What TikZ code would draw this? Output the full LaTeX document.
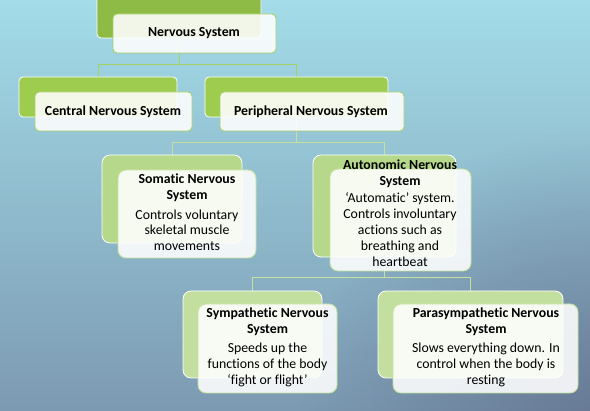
\documentclass[tikz,border=0pt]{standalone}
\usepackage{fontspec}
\setmainfont{Carlito}[Ligatures=NoCommon]
\usetikzlibrary{shadings,fadings}
\tikzfading[name=darkglow, inner color=transparent!0, outer color=transparent!100]
\definecolor{bgTop}{HTML}{A3DCE8}
\definecolor{bgMid}{HTML}{94CFDF}
\definecolor{bgBot}{HTML}{7C9AB2}
\definecolor{bgDark}{HTML}{5E6A88}
\definecolor{gA}{HTML}{8DBB45}
\definecolor{gB}{HTML}{9DCC4F}
\definecolor{gC}{HTML}{B5D88B}
\definecolor{gD}{HTML}{C3DF9F}
\definecolor{lineA}{HTML}{A6CF66}
\definecolor{lineB}{HTML}{C6E19E}
\begin{document}
\begin{tikzpicture}[x=1pt,y=-1pt,
  backbox/.style={draw=white, line width=0.8pt, inner sep=0pt},
  frontbox/.style={fill=white, fill opacity=0.88, line width=0.9pt, inner sep=0pt},
  conn/.style={line width=0.8pt},
  lbl/.style={font=\fontsize{13.8}{15.8}\selectfont, align=center, inner sep=0pt, text=black},
  head/.style={lbl, font=\fontsize{13.8}{15.8}\selectfont\bfseries}]
\useasboundingbox (0,0) rectangle (590,411);
\shade[top color=bgTop, middle color=bgMid, bottom color=bgBot] (0,0) rectangle (590,411);
\clip (0,0) rectangle (590,411);
\fill[bgDark, path fading=darkglow, fill opacity=0.7] (600,430) circle (300pt);
\coordinate (bus1) at (0,64);
\coordinate (bus2) at (0,142);
\coordinate (bus3) at (0,277);
% connector anchor points (back box centres)
\coordinate (nsC) at (179,17);
\coordinate (cnsC) at (98,97);
\coordinate (pnsC) at (296.5,97);
\coordinate (snsC) at (172,199);
\coordinate (ansC) at (384.5,206);
\coordinate (synC) at (252.5,334.5);
\coordinate (parC) at (470.5,334.5);
% connectors
\draw[conn, lineA] (nsC) -- (nsC |- bus1) -| (cnsC);
\draw[conn, lineA] (nsC |- bus1) -| (pnsC);
\draw[conn, lineB] (pnsC) -- (pnsC |- bus2) -| (snsC);
\draw[conn, lineB] (pnsC |- bus2) -| (ansC);
\draw[conn, lineB] (ansC) -- (ansC |- bus3) -| (synC);
\draw[conn, lineB] (ansC |- bus3) -| (parC);
% back boxes
\node[backbox, fill=gA, rounded corners=4pt, minimum width=164pt, minimum height=42pt] (nsB) at (nsC) {};
\node[backbox, fill=gB, rounded corners=4pt, minimum width=158pt, minimum height=40pt] (cnsB) at (cnsC) {};
\node[backbox, fill=gB, rounded corners=4pt, minimum width=183pt, minimum height=40pt] (pnsB) at (pnsC) {};
\node[backbox, fill=gC, rounded corners=8pt, minimum width=140pt, minimum height=88pt] (snsB) at (snsC) {};
\node[backbox, fill=gC, rounded corners=8pt, minimum width=143pt, minimum height=102pt] (ansB) at (ansC) {};
\node[backbox, fill=gD, rounded corners=8pt, minimum width=139pt, minimum height=87pt] (synB) at (synC) {};
\node[backbox, fill=gD, rounded corners=8pt, minimum width=185pt, minimum height=87pt] (parB) at (parC) {};
% front boxes
\node[frontbox, draw=lineA, rounded corners=4pt, minimum width=163pt, minimum height=39pt] (nsF) at (194.5,33.5) {};
\node[frontbox, draw=lineA, rounded corners=4pt, minimum width=157pt, minimum height=39pt] (cnsF) at (113.5,111.5) {};
\node[frontbox, draw=lineA, rounded corners=4pt, minimum width=184pt, minimum height=39pt] (pnsF) at (312,111.5) {};
\node[frontbox, draw=lineB, rounded corners=8pt, minimum width=138pt, minimum height=88pt] (snsF) at (187,214) {};
\node[frontbox, draw=lineB, rounded corners=8pt, minimum width=141pt, minimum height=102pt] (ansF) at (400.5,220) {};
\node[frontbox, draw=lineB, rounded corners=8pt, minimum width=139pt, minimum height=89pt] (synF) at (267.5,348.5) {};
\node[frontbox, draw=lineB, rounded corners=8pt, minimum width=185pt, minimum height=89pt] (parF) at (485.5,348.5) {};
% texts
\node[head] (nsT) at (194,33) {Nervous System};
\node[head] (cnsT) at (113,112) {Central Nervous System};
\node[head] (pnsT) at (311,112) {Peripheral Nervous System};
\node[lbl] (snsT) at (187,212.5) {\textbf{Somatic Nervous}\\\textbf{System}\\[3.5pt]Controls voluntary\\skeletal muscle\\movements};
\node[lbl] (ansT) at (400,213) {\textbf{Autonomic Nervous}\\\textbf{System}\\[2pt]‘Automatic’ system.\\Controls involuntary\\actions such as\\breathing and\\heartbeat};
\node[lbl] (synT) at (267.5,347.5) {\textbf{Sympathetic Nervous}\\\textbf{System}\\[3.5pt]Speeds up the\\functions of the body\\‘fight or flight’};
\node[lbl] (parT) at (486,347.5) {\textbf{Parasympathetic Nervous}\\\textbf{System}\\[3.5pt]Slows everything down. In\\control when the body is\\resting};
\end{tikzpicture}
\end{document}
